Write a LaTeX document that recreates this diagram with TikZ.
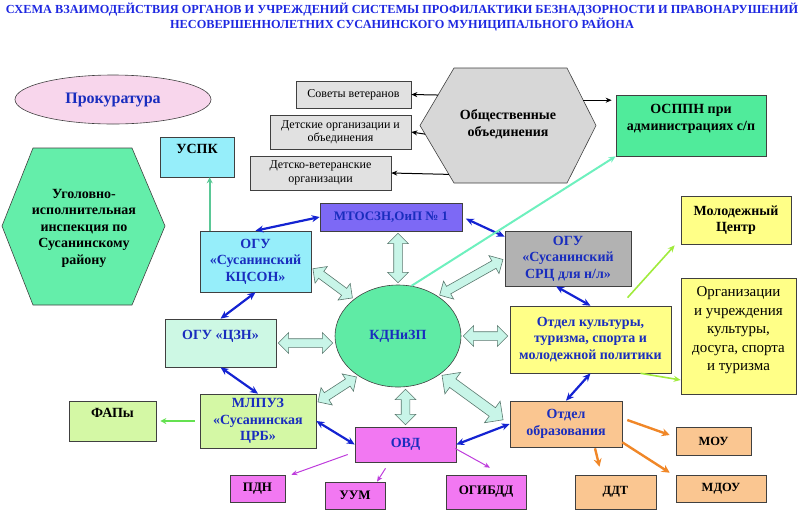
\documentclass[tikz,border=0pt]{standalone}
\usepackage{fontspec}
\setmainfont{Liberation Serif}
\usetikzlibrary{positioning,calc,arrows.meta,shapes.geometric,shapes.arrows}
\tikzset{>=Stealth}

\definecolor{titleblue}{RGB}{30,40,225}
\definecolor{labelblue}{RGB}{25,45,190}
\definecolor{pinkfill}{RGB}{248,214,236}
\definecolor{cyanfill}{RGB}{150,238,250}
\definecolor{hexgreen}{RGB}{100,238,170}
\definecolor{czngreen}{RGB}{205,248,228}
\definecolor{palegreen}{RGB}{212,248,165}
\definecolor{magfill}{RGB}{242,120,242}
\definecolor{kdngreen}{RGB}{95,235,165}
\definecolor{violetfill}{RGB}{125,105,245}
\definecolor{srcgray}{RGB}{178,178,178}
\definecolor{yellowfill}{RGB}{255,255,135}
\definecolor{peachfill}{RGB}{250,198,145}
\definecolor{grayfill}{RGB}{225,225,225}
\definecolor{hexgray}{RGB}{215,215,215}
\definecolor{osgreen}{RGB}{80,235,155}
\definecolor{linkblue}{RGB}{20,35,210}
\definecolor{orangeline}{RGB}{240,135,40}
\definecolor{purpleline}{RGB}{190,60,220}
\definecolor{limeline}{RGB}{160,235,60}
\definecolor{fapgreen}{RGB}{100,225,80}
\definecolor{aqualine}{RGB}{110,240,190}
\definecolor{uspkline}{RGB}{90,200,150}
\definecolor{arrowfill}{RGB}{200,245,232}
\definecolor{arrowline}{RGB}{90,120,110}

\newcommand\bigarrow[4][]{%
  \path let \p1=#3, \p2=#4, \n1={atan2(\y2-\y1,\x2-\x1)}, \n2={veclen(\x2-\x1,\y2-\y1)} in
    node[dblarrow,#1,minimum height={\n2-4},rotate=\n1] (#2) at ($(\p1)!0.5!(\p2)$) {};}

\begin{document}
\begin{tikzpicture}[x=1pt,y=-1pt,
  box/.style={draw=black!75,line width=0.6pt,inner sep=1pt,align=center,font=\bfseries\fontsize{14}{16.5}\selectfont},
  sz/.style 2 args={minimum width=#1,minimum height=#2},
  bluetext/.style={text=labelblue},
  graybox/.style={box,fill=grayfill,font=\fontsize{12}{13.5}\selectfont},
  smallbox/.style={box,font=\bfseries\fontsize{13}{15}\selectfont},
  bluelink/.style={draw=linkblue,line width=2.2pt,{Stealth[length=8pt,width=7pt]}-{Stealth[length=8pt,width=7pt]}},
  orangelink/.style={draw=orangeline,line width=2.4pt,-{Stealth[length=8pt,width=8pt]}},
  purplelink/.style={draw=purpleline,line width=1pt,-{Stealth[length=6pt,width=5pt]}},
  limelink/.style={draw=limeline,line width=1.6pt,-{Stealth[length=7pt,width=6pt]}},
  blacklink/.style={draw=black,line width=1pt,-{Stealth[length=6pt,width=5pt]}},
  dblarrow/.style={double arrow,double arrow head extend=6pt,minimum width=20pt,inner xsep=0pt,inner ysep=4pt,fill=arrowfill,draw=arrowline,line width=0.6pt}]
\useasboundingbox (0,0) rectangle (805,523);

\node[font=\bfseries\fontsize{12.3}{15}\selectfont,text=titleblue,align=center] (title) at (402,17.5)
  {СХЕМА ВЗАИМОДЕЙСТВИЯ ОРГАНОВ И УЧРЕЖДЕНИЙ СИСТЕМЫ ПРОФИЛАКТИКИ БЕЗНАДЗОРНОСТИ И ПРАВОНАРУШЕНИЙ\\НЕСОВЕРШЕННОЛЕТНИХ СУСАНИНСКОГО МУНИЦИПАЛЬНОГО РАЙОНА};

\node[box,ellipse,sz={196}{49},fill=pinkfill,bluetext,font=\bfseries\fontsize{16}{18}\selectfont] (prok) at (113,99.5) {Прокуратура};

\draw[fill=hexgreen,draw=black!75,line width=0.6pt] (33,148) -- (132,148) -- (165,226) -- (132,305) -- (33,305) -- (2,226) -- cycle;
\node[box,draw=none] (ugol) at (84,228) {Уголовно-\\исполнительная\\инспекция по\\Сусанинскому\\району};

\coordinate (onw) at (454,68);
\coordinate (one) at (567,68);
\coordinate (oe) at (596,125.5);
\coordinate (ose) at (567,183);
\coordinate (osw) at (454,183);
\coordinate (ow) at (420,125.5);
\draw[fill=hexgray,draw=black!75,line width=0.6pt] (onw) -- (one) -- (oe) -- (ose) -- (osw) -- (ow) -- cycle;
\node[box,draw=none] (obsh) at (508,124) {Общественные\\объединения};

\node[graybox,sz={115}{27}] (sovet) at (353.5,94.5) {Советы ветеранов};
\node[graybox,sz={141}{34}] (detorg) at (340.5,132) {Детские организации и\\объединения};
\node[graybox,sz={141}{34}] (detvet) at (320.5,173) {Детско-ветеранские\\организации};
\node[box,sz={150}{61},fill=osgreen] (osppn) at (691,125.5) {ОСППН при\\администрациях с/п\\~};

\node[box,sz={74}{40},fill=cyanfill] (uspk) at (197,157) {УСПК\\~};
\node[box,sz={142}{28},fill=violetfill,bluetext,font=\bfseries\fontsize{13}{15}\selectfont] (mtoszn) at (391,217) {МТОСЗН,ОиП №~1};
\node[box,sz={111}{61},fill=cyanfill,bluetext] (kcson) at (255.5,261.5) {ОГУ\\«Сусанинский\\КЦСОН»};
\node[box,sz={111}{48},fill=czngreen,bluetext] (czn) at (220.5,343) {ОГУ «ЦЗН»\\~};
\node[box,sz={116}{54},fill=palegreen,bluetext] (mlpuz) at (258,421) {МЛПУЗ\\«Сусанинская\\ЦРБ»};
\node[box,sz={87}{40},fill=palegreen] (fap) at (112.5,421) {ФАПы\\~};

\node[box,ellipse,sz={126}{102},fill=kdngreen,bluetext] (kdn) at (398,336) {КДНиЗП};

\node[box,sz={101}{35},fill=magfill,bluetext] (ovd) at (405.5,444.5) {ОВД};
\node[smallbox,sz={55}{27},fill=magfill] (pdn) at (257.5,488.5) {ПДН};
\node[smallbox,sz={60}{27},fill=magfill] (uum) at (355,495.5) {УУМ};
\node[smallbox,sz={80}{34},fill=magfill] (ogibdd) at (486,492) {ОГИБДД};

\node[box,sz={126}{55},fill=srcgray,bluetext] (src) at (568,258.5) {ОГУ\\«Сусанинский\\СРЦ для н/л»};
\node[box,sz={110}{48},fill=yellowfill] (molod) at (736,220) {Молодежный\\Центр};
\node[box,sz={161}{67},fill=yellowfill,bluetext] (kult) at (590.5,339.5) {Отдел культуры,\\туризма, спорта и\\молодежной политики};
\node[box,sz={115}{116},fill=yellowfill,font=\fontsize{15}{18.5}\selectfont] (orgkult) at (738.5,336) {Организации\\и учреждения\\культуры,\\досуга, спорта\\и туризма\\[-4pt]~};

\node[box,sz={112}{46},fill=peachfill,bluetext] (obraz) at (566,424) {Отдел\\образования};
\node[smallbox,sz={75}{28},fill=peachfill,font=\bfseries\fontsize{12.5}{15}\selectfont] (mou) at (713.5,441) {МОУ};
\node[smallbox,sz={81}{34},fill=peachfill,font=\bfseries\fontsize{12.5}{15}\selectfont] (ddt) at (615.5,492) {ДДТ};
\node[smallbox,sz={90}{27},fill=peachfill,font=\bfseries\fontsize{12.5}{15}\selectfont] (mdou) at (721,488.5) {МДОУ};

\bigarrow{kdn-mtoszn}{(kdn.north |- mtoszn.south)}{(kdn.north)}
\bigarrow{kdn-kcson}{([yshift=-6pt]kcson.east)}{(kdn.140)}
\bigarrow{kdn-czn}{(czn.east)}{(czn.east -| kdn.west)}
\bigarrow{kdn-mlpuz}{([yshift=18pt]mlpuz.east)}{(kdn.225)}
\bigarrow{kdn-ovd}{(ovd.north |- kdn.south)}{(ovd.north)}
\bigarrow{kdn-src}{(kdn.45)}{(src.west)}
\bigarrow{kdn-kult}{(kdn.east)}{(kdn.east -| kult.west)}
\bigarrow[minimum width=26pt,double arrow head extend=8pt,inner ysep=5pt]{kdn-obraz}{(kdn.318)}{([shift={(-5,-3)}]obraz.west)}

\draw[bluelink] (kcson.north) -- (mtoszn.west);
\draw[bluelink] (kcson.south) -- (czn.north);
\draw[bluelink] (czn.south) -- (mlpuz.north);
\draw[bluelink] (mlpuz.east) -- (ovd.west);
\draw[bluelink,shorten <=4pt] (mtoszn.east) -- ([yshift=-6pt]src.north west);
\draw[bluelink] ([xshift=-12pt]src.south) -- (kult.north);
\draw[bluelink] (kult.south) -- (obraz.north);
\draw[bluelink] (obraz.west) -- (ovd.east);

\draw[orangelink] ([shift={(5,-4)}]obraz.east) -- ([shift={(-6,-6)}]mou.west);
\draw[orangelink] ([shift={(29,1)}]obraz.south) -- ([shift={(-16,-8)}]ddt.north);
\draw[orangelink] ([yshift=5pt]obraz.south east) -- ([shift={(-6,-2)}]mdou.north west);

\draw[purplelink] ([shift={(-7,10)}]ovd.west) -- ([xshift=6pt]pdn.north east);
\draw[purplelink] ([shift={(-20,6)}]ovd.south) -- ([xshift=22pt]uum.north);
\draw[purplelink] ([shift={(-1,4)}]ovd.east) -- ([shift={(4,-7)}]ogibdd.north);

\draw[limelink] ([shift={(37,-8)}]kult.north) -- ([shift={(-6,1)}]molod.south west);
\draw[limelink] ([xshift=50pt]kult.south) -- ([shift={(0,44)}]orgkult.west);
\draw[draw=fapgreen,line width=1.4pt,-{Stealth[length=6pt,width=6pt]},shorten <=5pt,shorten >=4pt] (mlpuz.west) -- (fap.east);
\draw[draw=aqualine,line width=2pt,-{Stealth[length=7pt,width=6pt]}] (kdn.75) -- (osppn.south west);
\draw[draw=uspkline,line width=2pt,-{Stealth[length=6pt,width=6pt]}] ([xshift=10pt]kcson.north west) -- ([xshift=10pt]kcson.north west |- uspk.south);

\draw[blacklink] ($(ow)!0.53!(onw)$) -- (sovet.east);
\draw[blacklink] ($(ow)!0.15!(osw)$) -- (detorg.east);
\draw[blacklink] ($(ow)!0.85!(osw)$) -- (detvet.east);
\draw[blacklink,shorten >=4pt] ($(one)!0.56!(oe)$) coordinate (oarr) -- (oarr -| osppn.west);
\end{tikzpicture}
\end{document}
